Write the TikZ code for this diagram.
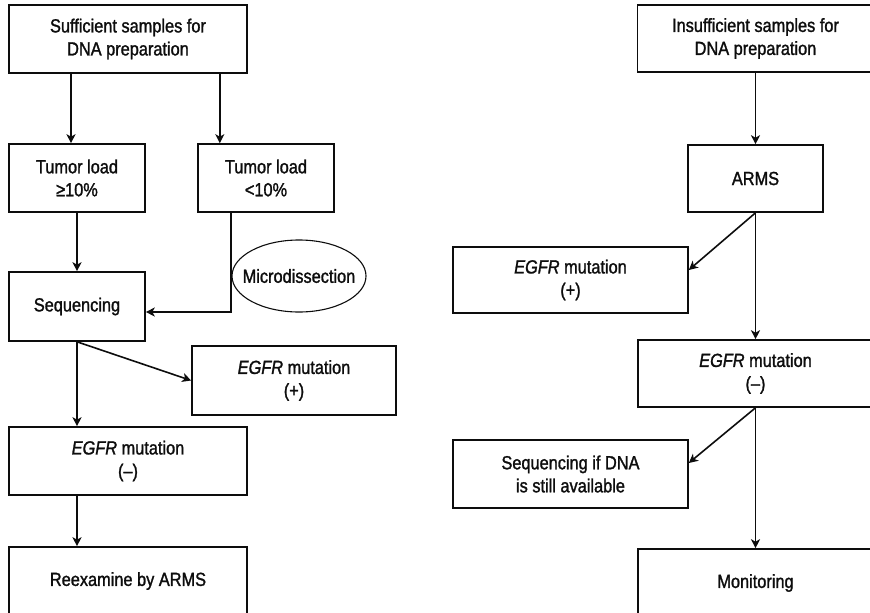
\documentclass[tikz,border=0pt]{standalone}
\usepackage{fontspec}
\setmainfont{Liberation Sans}[FakeStretch=0.86,FakeBold=1.4]
\usetikzlibrary{arrows.meta,shapes.geometric}

\begin{document}
\begin{tikzpicture}[x=1pt,y=-1pt,
  color=black!95,
  line width=1.6pt,
  lbl/.style={font=\fontsize{19}{23}\selectfont, align=center},
  box/.style={draw, rectangle, inner sep=0pt, lbl},
  oval/.style={line width=1.1pt},
  arr/.style={-{Stealth[length=9pt,width=9pt,inset=2.5pt]}},
]
\useasboundingbox (0,0) rectangle (870,613);
\clip (0,0) rectangle (870,613);

% ---- left branch: sufficient samples ----
\node[box, minimum width=238pt, minimum height=68pt] (suf) at (128,39)
  {Sufficient samples for\\DNA preparation};
\node[box, minimum width=136pt, minimum height=68pt] (hi) at (77,178)
  {Tumor load\\≥10\%};
\node[box, minimum width=136pt, minimum height=68pt] (lo) at (266,178)
  {Tumor load\\<10\%};
\node[box, minimum width=136pt, minimum height=69pt] (seq) at (77,306.5)
  {Sequencing};
\node[lbl, inner sep=0pt] (mic) at (299,276) {Microdissection};
\draw[oval] (mic.center) ellipse [x radius=67pt, y radius=36pt];
\node[box, minimum width=204pt, minimum height=69pt] (posL) at (294,380.5)
  {\textit{EGFR} mutation\\(+)};
\node[box, minimum width=238pt, minimum height=68pt] (negL) at (128,461)
  {\textit{EGFR} mutation\\(–)};
\node[box, minimum width=238pt, minimum height=68pt] (reex) at (128,581)
  {Reexamine by ARMS};

% ---- right branch: insufficient samples ----
\node[box, minimum width=236pt, minimum height=67pt] (ins) at (755.5,38.5)
  {Insufficient samples for\\DNA preparation};
\node[box, minimum width=135pt, minimum height=67pt] (arms) at (755.5,178.5)
  {ARMS};
\node[box, minimum width=235pt, minimum height=66pt] (posR) at (570.5,280)
  {\textit{EGFR} mutation\\(+)};
\node[box, minimum width=235pt, minimum height=67pt] (negR) at (755.5,373.5)
  {\textit{EGFR} mutation\\(–)};
\node[box, minimum width=235pt, minimum height=68pt] (seqR) at (570.5,474)
  {Sequencing if DNA\\is still available};
\node[box, minimum width=235pt, minimum height=68pt] (mon) at (755.5,583)
  {Monitoring};

% ---- connectors, left ----
\draw[arr] ([xshift=-6pt]hi.north |- suf.south) -- ([xshift=-6pt]hi.north);
\draw[arr] ([xshift=-28pt]suf.south east) -- ([xshift=-28pt]suf.south east |- lo.north);
\draw[arr] (hi.south) -- (seq.north);
\draw[arr] ([xshift=-35pt]lo.south) |- ([yshift=-5.5pt]seq.east);
\draw[arr] (seq.south) -- (posL.west);
\draw[arr] (seq.south) -- (seq.south |- negL.north);
\draw[arr] (seq.south |- negL.south) -- (seq.south |- reex.north);

% ---- connectors, right ----
\draw[arr] (ins.south) -- (arms.north);
\draw[arr] (arms.south) -- ([yshift=10pt]posR.east);
\draw[arr] (arms.south) -- (negR.north);
\draw[arr] (negR.south) -- ([yshift=11pt]seqR.east);
\draw[arr] (negR.south) -- (mon.north);
\end{tikzpicture}
\end{document}
